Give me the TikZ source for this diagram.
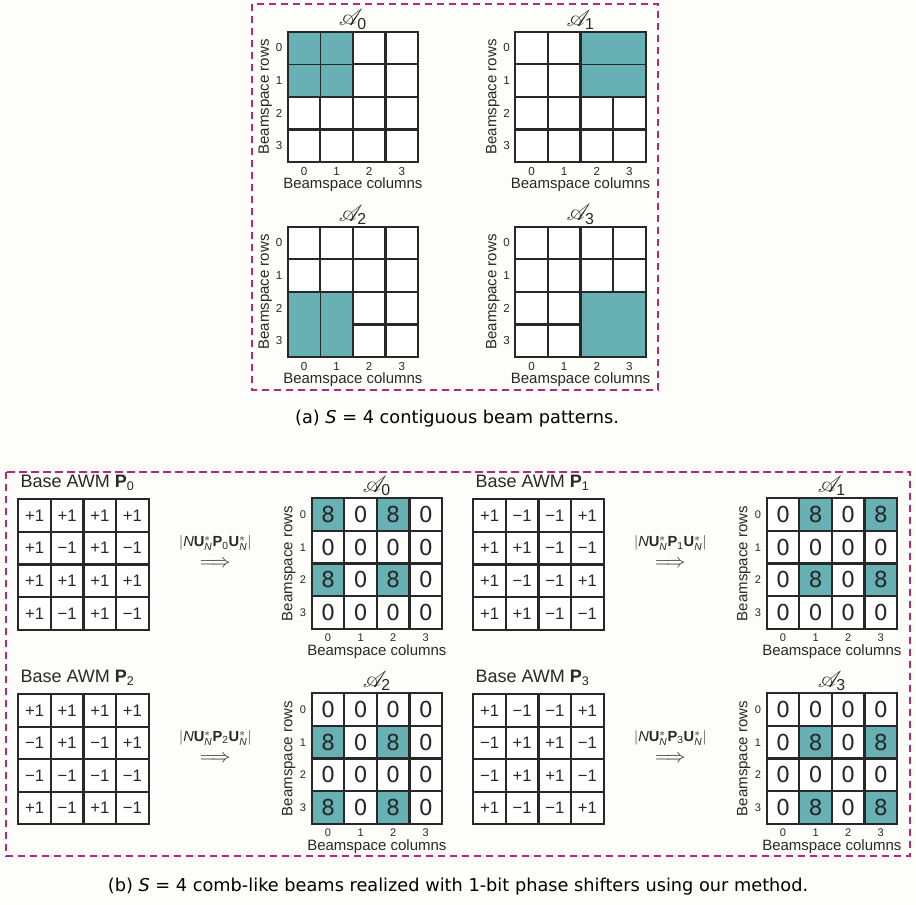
\documentclass[tikz,border=0pt]{standalone}
\usepackage{fontspec}
\usepackage{mathrsfs}
\setmainfont{Liberation Sans}
\newfontfamily\capfont{DejaVu Sans}
\newfontfamily\numfont{DejaVu Sans}
\definecolor{beamteal}{RGB}{103,177,180}
\definecolor{gridc}{RGB}{40,40,40}
\definecolor{boxc}{RGB}{178,40,125}
\definecolor{bgc}{RGB}{253,253,250}
\def\s{32.6}
\newcommand\GL[2]{%
  \foreach \k in {0,...,4}{%
    \draw[gl] ({#1+\k*\s},{#2}) -- ({#1+\k*\s},{#2+4*\s});
    \draw[gl] ({#1},{#2+\k*\s}) -- ({#1+4*\s},{#2+\k*\s});
  }}
% #1 name, #2 ox, #3 oy, #4 digit style, #5 rot label offset
\newcommand\Axes[5]{%
  \foreach \k in {0,...,3}{%
    \node[#4] (#1-r\k) at ({#2-8.7},{#3+(\k+0.5)*\s}) {\k};
    \node[#4] (#1-c\k) at ({#2+(\k+0.5)*\s},{#3+4*\s+9}) {\k};
  }
  \node[lab, rotate=90] (#1-rows) at ({#2-#5},{#3+2*\s}) {Beamspace rows};
  \node[lab] (#1-cols) at ({#2+2*\s},{#3+4*\s+22.5}) {Beamspace columns};
}
% top grid: #1 name, #2 ox, #3 oy, #4 c0, #5 r0, #6 subscript
\newcommand\TopGrid[6]{%
  \fill[white] (#2,#3) rectangle ({#2+4*\s},{#3+4*\s});
  \GL{#2}{#3}
  \fill[beamteal] ({#2+#4*\s+1.1},{#3+#5*\s+1.1}) rectangle ({#2+(#4+2)*\s-1.1},{#3+(#5+2)*\s-1.1});
  \node[ttl] (#1-title) at ({#2+2*\s},{#3-12}) {$\mathscr{A}_{\mathrm{#6}}$};
  \Axes{#1}{#2}{#3}{tdig}{22.5}
}
% P grid: #1 name, #2 ox, #3 oy, #4 index, #5 entries
\newcommand\PGrid[5]{%
  \fill[white] (#2,#3) rectangle ({#2+4*\s},{#3+4*\s});
  \GL{#2}{#3}
  \foreach \v [count=\n from 0] in {#5}{%
    \pgfmathtruncatemacro\ci{mod(\n,4)}%
    \pgfmathtruncatemacro\rj{div(\n,4)}%
    \node[pnum] (#1-\rj-\ci) at ({#2+(\ci+0.5)*\s},{#3+(\rj+0.5)*\s}) {\v};
  }
  \node[btitle, anchor=west] (#1-title) at ({#2+2},{#3-16.5}) {Base AWM $\mathbf{P}_{\mathrm{#4}}$};
  \node[albl] (#1-op) at ({#2+197},{#3+44}) {$|\mathit{N}\mathbf{U}^{*}_{\mathit{N}}\mathbf{P}_{\mathrm{#4}}\mathbf{U}^{*}_{\mathit{N}}|$};
  \node[arr] (#1-arrow) at ({#2+197},{#3+65}) {$\Longrightarrow$};
}
% A grid: #1 name, #2 ox, #3 oy, #4 c0, #5 r0, #6 subscript
\newcommand\AGrid[6]{%
  \fill[white] (#2,#3) rectangle ({#2+4*\s},{#3+4*\s});
  \foreach \rj in {0,...,3}{%
    \foreach \ci in {0,...,3}{%
      \pgfmathtruncatemacro\sh{(mod(\rj-#5+4,2)==0)&&(mod(\ci-#4+4,2)==0)}%
      \ifnum\sh=1
        \fill[beamteal] ({#2+\ci*\s},{#3+\rj*\s}) rectangle ({#2+(\ci+1)*\s},{#3+(\rj+1)*\s});
        \node[anum] (#1-\rj-\ci) at ({#2+(\ci+0.5)*\s},{#3+(\rj+0.5)*\s}) {8};
      \else
        \node[anum] (#1-\rj-\ci) at ({#2+(\ci+0.5)*\s},{#3+(\rj+0.5)*\s}) {0};
      \fi
    }}
  \GL{#2}{#3}
  \node[ttl] (#1-title) at ({#2+2*\s},{#3-12.5}) {$\mathscr{A}_{\mathrm{#6}}$};
  \Axes{#1}{#2}{#3}{bdig}{23}
}
\begin{document}
\begin{tikzpicture}[x=0.75pt,y=-0.75pt,
  gl/.style={line width=1.6pt, draw=gridc, line cap=rect},
  thinl/.style={line width=0.6pt, draw=gridc},
  dbox/.style={draw=boxc, line width=1.5pt, dash pattern=on 5.5pt off 3.5pt},
  lab/.style={font=\fontsize{11.25}{13}\selectfont, inner sep=0pt, text=gridc},
  tdig/.style={font=\fontsize{8.7}{10}\selectfont, inner sep=0pt, text=gridc},
  bdig/.style={font=\fontsize{8.3}{9}\selectfont, inner sep=0pt, text=gridc},
  ttl/.style={font=\fontsize{17}{19}\selectfont, inner sep=0pt, text=gridc},
  pnum/.style={font=\fontsize{12.5}{14}\selectfont, inner sep=0pt, text=gridc},
  anum/.style={font=\numfont\fontsize{16.5}{18}\selectfont, inner sep=0pt, text=gridc},
  btitle/.style={font=\fontsize{13.5}{16}\selectfont, inner sep=0pt, text=gridc},
  albl/.style={font=\fontsize{11}{13}\selectfont, inner sep=0pt, text=gridc},
  arr/.style={font=\fontsize{15}{17}\selectfont, inner sep=0pt, text=gridc},
  captext/.style={font=\capfont\fontsize{13.3}{16}\selectfont, inner sep=0pt, text=black}]
\useasboundingbox[fill=bgc] (0,0) rectangle (916,905);

% ---------- panel (a) ----------
\draw[dbox] (252,4) rectangle (658,390);
\TopGrid{ta0}{287.7}{31.7}{0}{0}{0}
\draw[thinl] ({287.7+1*\s},{31.7+1.1}) -- ({287.7+1*\s},{31.7+2*\s-1.1});
\draw[thinl] ({287.7+1.1},{31.7+1*\s}) -- ({287.7+2*\s-1.1},{31.7+1*\s});
\TopGrid{ta1}{515.3}{31.7}{2}{0}{1}
\draw[thinl] ({515.3+2*\s+1.1},{31.7+1*\s}) -- ({515.3+4*\s-1.1},{31.7+1*\s});
\TopGrid{ta2}{287.7}{226.7}{0}{2}{2}
\draw[thinl] ({287.7+1*\s},{226.7+2*\s+1.1}) -- ({287.7+1*\s},{226.7+4*\s-1.1});
\TopGrid{ta3}{515.3}{226.7}{2}{2}{3}
\node[captext] (capa) at (457,418.3) {(a) \textit{S} = 4 contiguous beam patterns.};

% ---------- panel (b) ----------
\draw[dbox] (6,471.7) rectangle (910,856);
\PGrid{p0}{18.3}{499.3}{0}{+1,+1,+1,+1, +1,−1,+1,−1, +1,+1,+1,+1, +1,−1,+1,−1}
\AGrid{a0}{311.7}{498.3}{0}{0}{0}
\PGrid{p1}{473.3}{499.3}{1}{+1,−1,−1,+1, +1,+1,−1,−1, +1,−1,−1,+1, +1,+1,−1,−1}
\AGrid{a1}{766.7}{498.3}{1}{0}{1}
\PGrid{p2}{18.3}{694}{2}{+1,+1,+1,+1, −1,+1,−1,+1, −1,−1,−1,−1, +1,−1,+1,−1}
\AGrid{a2}{311.7}{693.3}{0}{1}{2}
\PGrid{p3}{473.3}{694}{3}{+1,−1,−1,+1, −1,+1,+1,−1, −1,+1,+1,−1, +1,−1,−1,+1}
\AGrid{a3}{766.7}{693.3}{1}{1}{3}
\node[captext] (capb) at (458,886.7) {(b) \textit{S} = 4 comb-like beams realized with 1-bit phase shifters using our method.};
\end{tikzpicture}
\end{document}
